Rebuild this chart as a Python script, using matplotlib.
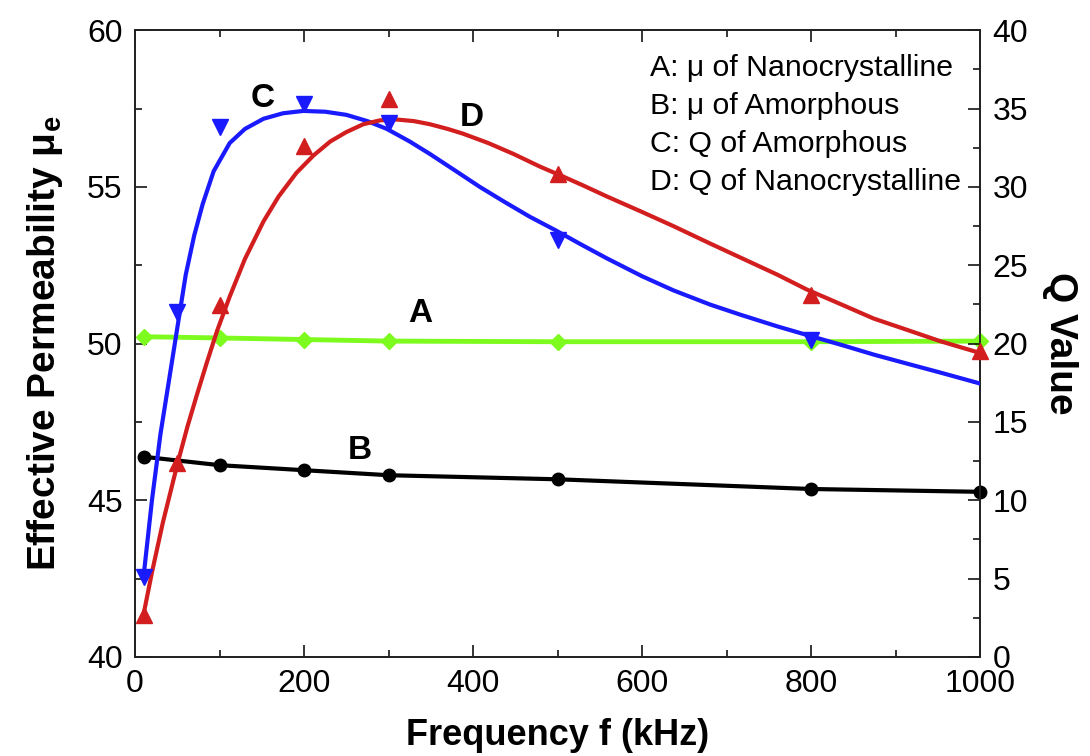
import numpy as np
import matplotlib
matplotlib.use('Agg')
import matplotlib.pyplot as plt

plt.rcParams['font.family'] = ['Liberation Sans', 'DejaVu Sans']
plt.rcParams['mathtext.fontset'] = 'custom'
plt.rcParams['mathtext.rm'] = 'Liberation Sans'
plt.rcParams['mathtext.bf'] = 'Liberation Sans:bold'
plt.rcParams['mathtext.default'] = 'regular'

# permeability (left axis)
f_mu = [10, 100, 200, 300, 500, 800, 1000]
mu_nano = [50.22, 50.18, 50.13, 50.08, 50.06, 50.06, 50.08]   # A
mu_amor = [46.39, 46.12, 45.96, 45.80, 45.67, 45.36, 45.27]   # B

# Q value (right axis), measured points
f_q = [10, 50, 100, 200, 300, 500, 800]
q_amor = [5.1, 22.0, 33.8, 35.3, 34.1, 26.6, 20.2]            # C
f_qn = [10, 50, 100, 200, 300, 500, 800, 1000]
q_nano = [2.7, 12.35, 22.45, 32.6, 35.6, 30.85, 23.1, 19.5]   # D

# fitted curves for Q
fit_c_x = [10, 20, 30, 40, 50, 60, 70, 80, 93, 112, 130, 152, 175, 199, 225, 250, 275,
           298, 325, 349, 380, 408, 437, 467, 497, 527, 558, 600, 637, 680, 716, 760,
           795, 840, 874, 915, 953, 1000]
fit_c_y = [5.1, 10.0, 14.2, 17.6, 21.0, 24.4, 26.9, 28.9, 31.0, 32.8, 33.7, 34.35, 34.7,
           34.85, 34.8, 34.6, 34.2, 33.7, 32.9, 32.1, 31.0, 30.0, 29.05, 28.1, 27.25,
           26.35, 25.45, 24.3, 23.4, 22.5, 21.85, 21.1, 20.55, 19.85, 19.3, 18.7, 18.15,
           17.45]
fit_d_x = [10, 20, 33, 51, 62, 73, 85, 97, 112, 130, 152, 170, 191, 211, 231, 250, 270,
           290, 310, 330, 349, 370, 388, 418, 448, 479, 507, 530, 558, 600, 637, 680,
           716, 760, 795, 840, 874, 915, 953, 1000]
fit_d_y = [2.7, 5.4, 8.6, 12.5, 14.7, 16.7, 18.8, 20.8, 23.0, 25.4, 27.8, 29.4, 30.9,
           32.0, 32.9, 33.5, 34.0, 34.25, 34.3, 34.2, 34.0, 33.7, 33.4, 32.8, 32.1, 31.3,
           30.65, 30.1, 29.4, 28.4, 27.5, 26.4, 25.5, 24.4, 23.45, 22.4, 21.6, 20.85,
           20.15, 19.4]

green = '#7dfa1e'
blue = '#1a1aff'
red = '#d21e1e'

fig = plt.figure(figsize=(10.9, 7.56), dpi=100)
ax = fig.add_axes([0.1239, 0.131, 0.7753, 0.829])
ax2 = ax.twinx()

ax.plot(f_mu, mu_nano, color=green, lw=3.5, marker='D', ms=8, zorder=3, clip_on=False)
ax.plot(f_mu, mu_amor, color='black', lw=3, marker='o', ms=9, zorder=3, clip_on=False)

ax2.plot(fit_c_x, fit_c_y, color=blue, lw=3, zorder=3)
ax2.plot(f_q, q_amor, color=blue, lw=0, marker='v', ms=11, zorder=4)
ax2.plot(fit_d_x, fit_d_y, color=red, lw=3, zorder=3)
ax2.plot(f_qn, q_nano, color=red, lw=0, marker='^', ms=11, zorder=4, clip_on=False)

ax.set_xlim(0, 1000)
ax.set_ylim(40, 60)
ax2.set_ylim(0, 40)
ax.set_xticks(np.arange(0, 1001, 200))
ax.set_xticks(np.arange(0, 1001, 100), minor=True)
ax.set_yticks(np.arange(40, 61, 5))
ax.set_yticks(np.arange(40, 61, 2.5), minor=True)
ax2.set_yticks(np.arange(0, 41, 5))
ax2.set_yticks(np.arange(0, 41, 2.5), minor=True)

ax.tick_params(which='both', direction='in', top=True, right=False, width=1.1,
               labelsize=23, pad=9)
ax.tick_params(which='major', length=8.5)
ax.tick_params(which='minor', length=5)
ax2.tick_params(which='both', direction='in', width=1.1, labelsize=23, pad=9)
ax2.tick_params(which='major', length=8.5)
ax2.tick_params(which='minor', length=5)
for a in (ax, ax2):
    for s in a.spines.values():
        s.set_linewidth(1.3)
        s.set_color('#222222')

ax.set_xlabel('Frequency f (kHz)', fontsize=26, fontweight='bold', labelpad=13)
ax.set_ylabel(r'Effective Permeability $\mu_{\mathbf{e}}$', fontsize=28,
              fontweight='bold', labelpad=16)
ax2.set_ylabel('Q Value', fontsize=28, fontweight='bold', rotation=270, labelpad=36)

# curve labels
ax.text(151, 57.83, 'C', fontsize=24, fontweight='bold', ha='center', va='center')
ax.text(399, 57.23, 'D', fontsize=24, fontweight='bold', ha='center', va='center')
ax.text(337, 50.95, 'A', fontsize=24, fontweight='bold', ha='center', va='center')
ax.text(266, 46.60, 'B', fontsize=24, fontweight='bold', ha='center', va='center')

legend_lines = ['A: μ of Nanocrystalline', 'B: μ of Amorphous',
                'C: Q of Amorphous', 'D: Q of Nanocrystalline']
for i, s in enumerate(legend_lines):
    ax.text(0.609, 0.939 - i * 0.0605, s, transform=ax.transAxes, fontsize=21.8,
            ha='left', va='center', zorder=5)

fig.savefig('out.png', dpi=100)
